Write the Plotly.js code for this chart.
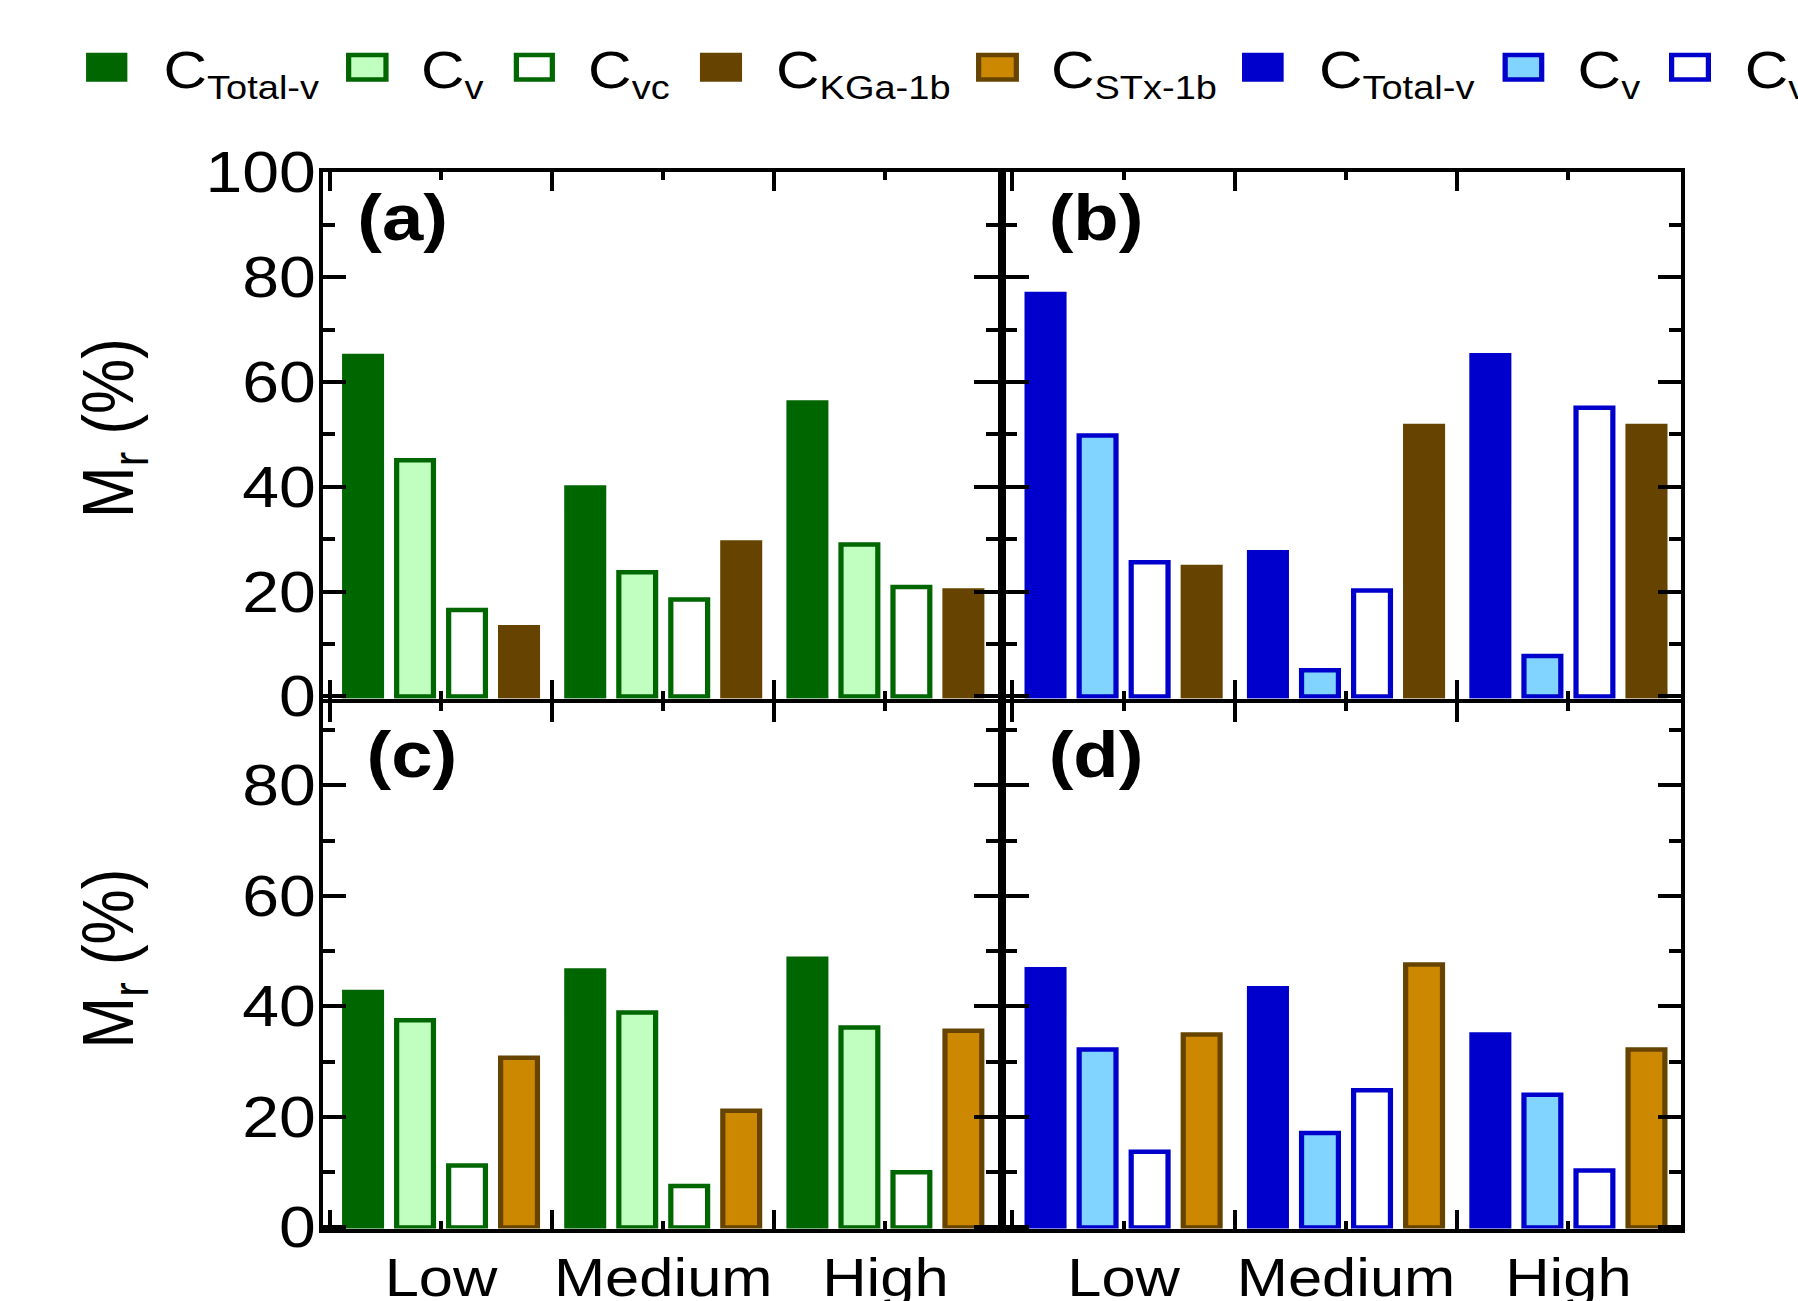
<!DOCTYPE html>
<html>
<head>
<meta charset="utf-8">
<script src="https://cdn.plot.ly/plotly-3.0.1.min.js"></script>
<style>
  html, body { margin: 0; padding: 0; background: #ffffff; overflow: hidden; }
  #wrap { width: 1600px; height: 1340px; transform: scaleX(1.16); transform-origin: 0 0; }
  #plot { width: 1600px; height: 1340px; }
</style>
</head>
<body>
<div id="wrap"><div id="plot"></div></div>
<script>
// ---------------- data ----------------
const groups = ['Low', 'Medium', 'High'];

// panel (a)
const aTotal = [65.0, 39.9, 56.1];
const aCv    = [45.1, 23.7, 29.0];
const aCvc   = [16.5, 18.5, 20.9];
const aKGa   = [13.2, 29.4, 20.2];
// panel (b)
const bTotal = [76.8, 27.5, 65.1];
const bCv    = [49.8, 5.0, 7.7];
const bCvc   = [25.6, 20.2, 55.1];
const bKGa   = [24.7, 51.6, 51.6];
// panel (c)
const cTotal = [42.6, 46.5, 48.6];
const cCv    = [37.5, 38.9, 36.2];
const cCvc   = [11.2, 7.5, 10.0];
const cSTx   = [30.7, 21.1, 35.6];
// panel (d)
const dTotal = [46.7, 43.3, 34.9];
const dCv    = [32.2, 17.1, 24.0];
const dCvc   = [13.7, 24.8, 10.3];
const dSTx   = [34.9, 47.6, 32.2];

const legendSubs = ['Total-v', 'v', 'vc', 'KGa-1b', 'STx-1b', 'Total-v', 'v', 'vc'];
const panelLabels = ['(a)', '(b)', '(c)', '(d)'];
const yTitle = 'M<sub>r</sub> (%)';

// ---------------- styles ----------------
const W = 1600, H = 1340;
const FONT = 'Liberation Sans, Arial, Helvetica, sans-serif';
const green = '#006600', lightGreen = '#C0FFC0', brown = '#664400', orange = '#CC8800';
const blue = '#0000CC', lightBlue = '#80D4FF', white = '#FFFFFF';
const BAR_LW = 4.5;

const xpos = groups.map((g, i) => i);
const alias = {};
groups.forEach((g, i) => { alias[String(i)] = g; });

function bar(y, fill, line, xa, ya) {
  return {
    type: 'bar', x: xpos, y: y, xaxis: xa, yaxis: ya,
    marker: { color: fill, line: { color: line, width: BAR_LW } },
    showlegend: false, hoverinfo: 'skip'
  };
}

const data = [
  bar(aTotal, green, green, 'x', 'y'),
  bar(aCv, lightGreen, green, 'x', 'y'),
  bar(aCvc, white, green, 'x', 'y'),
  bar(aKGa, brown, brown, 'x', 'y'),

  bar(bTotal, blue, blue, 'x2', 'y2'),
  bar(bCv, lightBlue, blue, 'x2', 'y2'),
  bar(bCvc, white, blue, 'x2', 'y2'),
  bar(bKGa, brown, brown, 'x2', 'y2'),

  bar(cTotal, green, green, 'x3', 'y3'),
  bar(cCv, lightGreen, green, 'x3', 'y3'),
  bar(cCvc, white, green, 'x3', 'y3'),
  bar(cSTx, orange, brown, 'x3', 'y3'),

  bar(dTotal, blue, blue, 'x4', 'y4'),
  bar(dCv, lightBlue, blue, 'x4', 'y4'),
  bar(dCvc, white, blue, 'x4', 'y4'),
  bar(dSTx, orange, brown, 'x4', 'y4')
];

// geometry (unscaled px)
const px = u => u / W;
const py = v => 1 - v / H;
const xDomA = [px(278.7), px(860)];
const xDomB = [px(867), px(1448.9)];
const yDomTop = [py(698.5), py(172)];
const yDomBot = [py(1228.5), py(702.5)];
const xRange = [-0.53, 2.505];
const yRangeTop = [-0.4, 100.1];
const yRangeBot = [-0.2, 95];

function xax(domain, anchor, showLabels) {
  return {
    domain: domain, anchor: anchor, range: xRange, type: 'linear',
    showline: true, linewidth: 4, linecolor: '#000', mirror: 'ticks',
    ticks: 'inside', tickmode: 'linear', tick0: 0, dtick: 1, ticklen: 8, tickwidth: 3.5, tickcolor: '#000',
    labelalias: alias,
    showticklabels: showLabels, tickfont: { family: FONT, size: 53, color: '#000' },
    minor: { ticks: 'inside', tickmode: 'linear', tick0: -0.5, dtick: 1, ticklen: 19, tickwidth: 3.5, tickcolor: '#000' },
    showgrid: false, zeroline: false, fixedrange: true
  };
}
function yax(domain, anchor, range, showLabels) {
  return {
    domain: domain, anchor: anchor, range: range, type: 'linear',
    showline: true, linewidth: 4, linecolor: '#000', mirror: 'ticks',
    ticks: 'inside', tickmode: 'linear', tick0: 0, dtick: 20, ticklen: 20, tickwidth: 4, tickcolor: '#000',
    showticklabels: showLabels, tickfont: { family: FONT, size: 57, color: '#000' },
    ticklabelstandoff: -9,
    minor: { ticks: 'inside', tickmode: 'linear', tick0: 0, dtick: 10, ticklen: 10, tickwidth: 4, tickcolor: '#000' },
    showgrid: false, zeroline: false, fixedrange: true
  };
}

// legend drawn as shapes + annotations
const legFill = [green, lightGreen, white, brown, orange, blue, lightBlue, white];
const legLine = [green, green, green, brown, brown, blue, blue, blue];
const legSymX = [[74.2, 109.8], [298.3, 335.0], [442.9, 478.4], [603.4, 639.7],
                 [841.4, 878.4], [1070.7, 1106.6], [1295.3, 1331.3], [1438.8, 1475.0]];
const legTextX = [143.5, 366.2, 509.5, 672.1, 909.1, 1140.3, 1363.4, 1506.6];
const LEG_LW = 4.5;
const shapes = [];
const annotations = [];
legendSubs.forEach((sub, i) => {
  const h = LEG_LW / 2;
  shapes.push({
    type: 'rect', xref: 'paper', yref: 'paper',
    x0: px(legSymX[i][0] + h), x1: px(legSymX[i][1] - h),
    y0: py(81.7 - h), y1: py(52.7 + h),
    fillcolor: legFill[i], line: { color: legLine[i], width: LEG_LW }, layer: 'above'
  });
  annotations.push({
    xref: 'paper', yref: 'paper', x: px(legTextX[i] - 4), y: py(74),
    xanchor: 'left', yanchor: 'middle', showarrow: false, borderpad: 0,
    text: 'C<sub><span style="font-size:90%">' + sub + '</span></sub>',
    font: { family: FONT, size: 52, color: '#000' }
  });
});

// panel labels
const labelPos = [[307, 218], [903, 218], [314.6, 755], [903, 755]];
panelLabels.forEach((t, i) => {
  annotations.push({
    xref: 'paper', yref: 'paper', x: px(labelPos[i][0]), y: py(labelPos[i][1]),
    xanchor: 'left', yanchor: 'middle', showarrow: false, borderpad: 0,
    text: '<b>' + t + '</b>', font: { family: FONT, size: 64, color: '#000' }
  });
});

// y-axis titles
[[97.4, 427.5], [97.4, 958]].forEach(p => {
  annotations.push({
    xref: 'paper', yref: 'paper', x: px(p[0]), y: py(p[1]),
    xanchor: 'center', yanchor: 'middle', showarrow: false, textangle: -90, borderpad: 0,
    text: yTitle, font: { family: FONT, size: 62, color: '#000' }
  });
});

const layout = {
  width: W, height: H,
  margin: { l: 0, r: 0, t: 0, b: 0, pad: 0 },
  paper_bgcolor: '#ffffff', plot_bgcolor: '#ffffff',
  font: { family: FONT, color: '#000' },
  barmode: 'group', bargap: 0.064, bargroupgap: 0.292,
  showlegend: false,
  xaxis: xax(xDomA, 'y', false),
  yaxis: yax(yDomTop, 'x', yRangeTop, true),
  xaxis2: xax(xDomB, 'y2', false),
  yaxis2: yax(yDomTop, 'x2', yRangeTop, false),
  xaxis3: xax(xDomA, 'y3', true),
  yaxis3: yax(yDomBot, 'x3', yRangeBot, true),
  xaxis4: xax(xDomB, 'y4', true),
  yaxis4: yax(yDomBot, 'x4', yRangeBot, false),
  shapes: shapes,
  annotations: annotations
};

Plotly.newPlot('plot', data, layout, { displayModeBar: false, staticPlot: true });
</script>
</body>
</html>
